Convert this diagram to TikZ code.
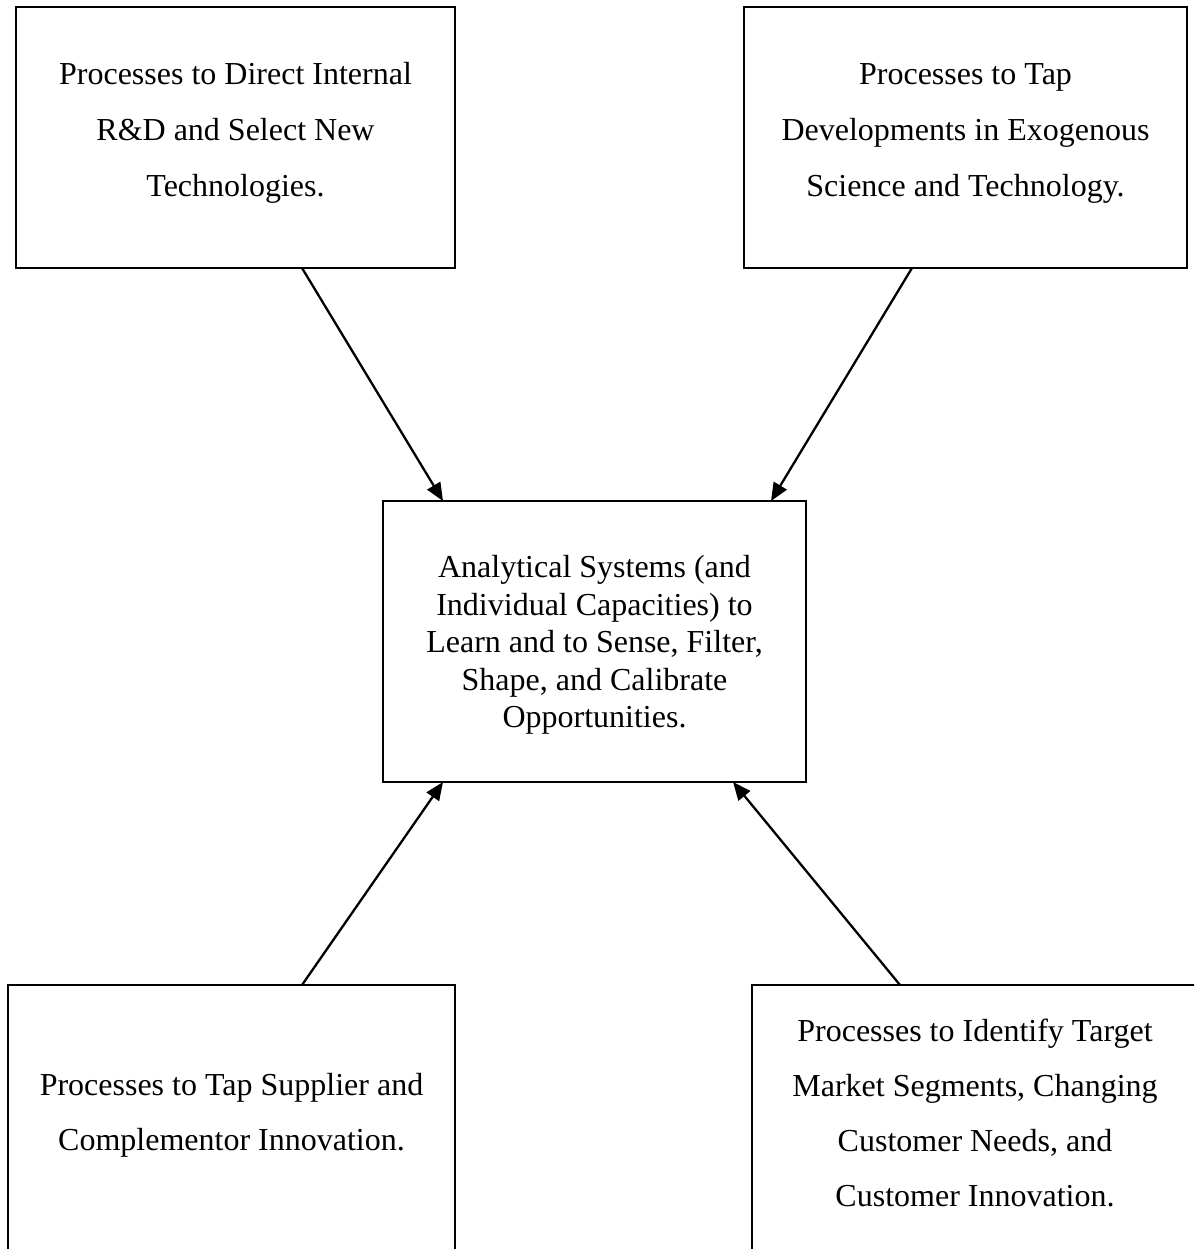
\documentclass[tikz,border=0pt]{standalone}
\usepackage{fontspec}
\setmainfont{Liberation Serif}
\usetikzlibrary{arrows.meta}
\begin{document}
\begin{tikzpicture}[x=1pt,y=-1pt,
  box/.style={draw=black, line width=2.6pt, rectangle, outer sep=0pt, inner sep=0pt, anchor=north west},
  txt/.style={align=center, inner sep=0pt, font=\fontsize{32}{56}\selectfont},
  txtc/.style={align=center, inner sep=0pt, font=\fontsize{32}{37.5}\selectfont},
  txtb/.style={align=center, inner sep=0pt, font=\fontsize{32}{55}\selectfont},
  arr/.style={line width=2.3pt, -{Triangle[length=18pt,width=15pt]}}]
\useasboundingbox (0,0) rectangle (1194,1249);
\clip (0,0) rectangle (1194,1249);
\fill[white] (0,0) rectangle (1194,1249);
% boxes
\node[box, minimum width=439pt, minimum height=261pt] (tl) at (16,7) {};
\node[box, minimum width=443pt, minimum height=261pt] (tr) at (744,7) {};
\node[box, minimum width=423pt, minimum height=281pt] (c) at (383,501) {};
\node[box, minimum width=447pt, minimum height=300pt] (bl) at (8,985) {};
\node[box, minimum width=446pt, minimum height=300pt] (br) at (752,985) {};
% texts
\node[txt] (tltext) at (235.5,133) {Processes to Direct Internal\\R\&D and Select New\\Technologies.};
\node[txt] (trtext) at (965.5,133) {Processes to Tap\\Developments in Exogenous\\Science and Technology.};
\node[txtc] (ctext) at (594.5,645) {Analytical Systems (and\\Individual Capacities) to\\Learn and to Sense, Filter,\\Shape, and Calibrate\\Opportunities.};
\node[txtb] (bltext) at (231.5,1115) {Processes to Tap Supplier and\\Complementor Innovation.};
\node[txtb] (brtext) at (975,1112.5) {Processes to Identify Target\\Market Segments, Changing\\Customer Needs, and\\Customer Innovation.};
% arrows
\draw[arr] ([xshift=286pt]tl.south west) -- ([xshift=60pt]c.north west);
\draw[arr] ([xshift=168pt]tr.south west) -- ([xshift=388pt]c.north west);
\draw[arr] ([xshift=294pt]bl.north west) -- ([xshift=60pt]c.south west);
\draw[arr] ([xshift=148pt]br.north west) -- ([xshift=350pt]c.south west);
\end{tikzpicture}
\end{document}
